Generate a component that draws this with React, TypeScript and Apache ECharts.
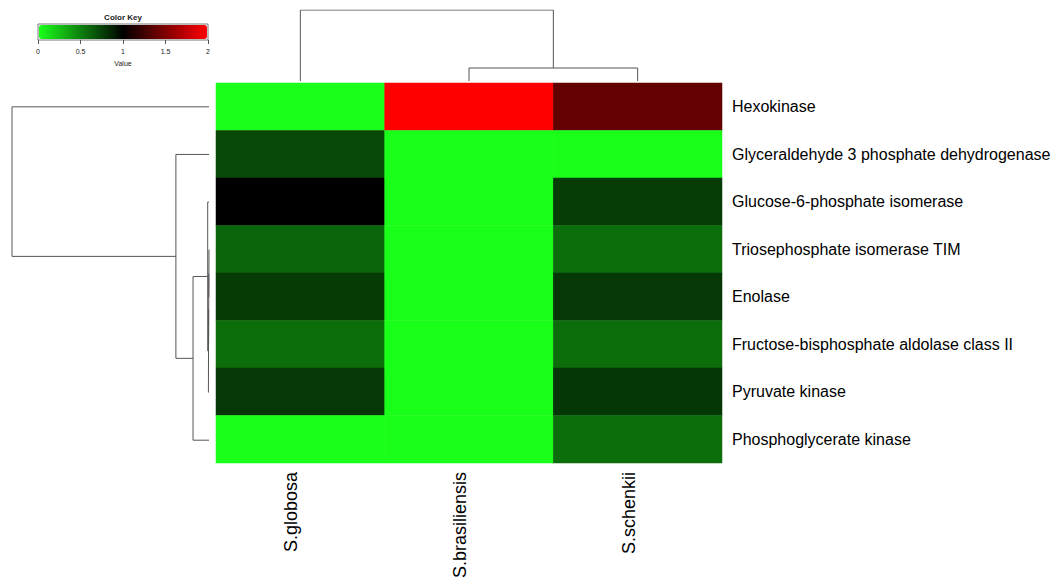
import React, { useEffect, useRef } from "react";
import * as echarts from "echarts";

const rowLabels = [
  "Hexokinase",
  "Glyceraldehyde 3 phosphate dehydrogenase",
  "Glucose-6-phosphate isomerase",
  "Triosephosphate isomerase TIM",
  "Enolase",
  "Fructose-bisphosphate aldolase class II",
  "Pyruvate kinase",
  "Phosphoglycerate kinase",
];
const colLabels = ["S.globosa", "S.brasiliensis", "S.schenkii"];

const globosa = [0, 0.72, 1.0, 0.6, 0.77, 0.57, 0.78, 0];
const brasiliensis = [2, 0, 0, 0, 0, 0, 0, 0];
const schenkii = [1.39, 0, 0.76, 0.57, 0.78, 0.57, 0.79, 0.57];

// hclust-style merges: negative = leaf -(index+1), positive = earlier merge (1-based)
const rowMerge = [[-4, -5], [1, -6], [2, -7], [-3, 3], [4, -8], [-2, 5], [-1, 6]];
const rowHeights = [0.001, 0.002, 0.003, 0.0066, 0.081, 0.168, 1];
const colMerge = [[-2, -3], [-1, 1]];
const colHeights = [0.183, 1];

const keyTicks = [0, 0.5, 1, 1.5, 2];
const keyColors = ["#1aff1a", "#000000", "#ff0000"];

function elbows(merge: number[][], heights: number[]) {
  const pos: number[] = [];
  const hs: number[] = [];
  const segs: number[][][] = [];
  const get = (id: number) =>
    id < 0 ? [-id - 1, 0] : [pos[id - 1], hs[id - 1]];
  merge.forEach((m, k) => {
    const [pa, ha] = get(m[0]);
    const [pb, hb] = get(m[1]);
    const h = heights[k];
    pos.push((pa + pb) / 2);
    hs.push(h);
    segs.push([[pa, ha], [pa, h], [pb, h], [pb, hb]]);
  });
  return segs;
}

export default function App() {
  const ref = useRef<HTMLDivElement>(null);
  useEffect(() => {
    if (!ref.current) return;
    const chart = echarts.init(ref.current, null, { renderer: "svg" });
    const font = "Liberation Sans, Arial, sans-serif";
    const cols = [globosa, brasiliensis, schenkii];
    const heatData: number[][] = [];
    cols.forEach((col, ci) =>
      col.forEach((v, ri) => heatData.push([ci, ri, v]))
    );
    const lineStyle = { color: "#555", width: 1 };
    const rowSegs = elbows(rowMerge, rowHeights).map((s) => ({
      type: "line",
      xAxisIndex: 1,
      yAxisIndex: 1,
      data: s.map(([p, h]) => [h, p]),
      symbol: "none",
      silent: true,
      lineStyle,
    }));
    const colSegs = elbows(colMerge, colHeights).map((s) => ({
      type: "line",
      xAxisIndex: 2,
      yAxisIndex: 2,
      data: s.map(([p, h]) => [p, h]),
      symbol: "none",
      silent: true,
      lineStyle,
    }));

    chart.setOption({
      animation: false,
      textStyle: { fontFamily: font },
      grid: [
        { left: 216, top: 83, width: 506, height: 381 },
        { left: 12, top: 83, width: 197, height: 381 },
        { left: 216, top: 10, width: 506, height: 71 },
        {
          left: 38,
          top: 24,
          width: 170,
          height: 16,
          show: true,
          borderColor: "#777",
          borderWidth: 1,
          backgroundColor: "transparent",
        },
      ],
      xAxis: [
        {
          type: "category",
          gridIndex: 0,
          data: colLabels,
          position: "bottom",
          axisLine: { show: false },
          axisTick: { show: false },
          axisLabel: {
            rotate: 90,
            fontSize: 18,
            color: "#000",
            margin: 9,
            verticalAlign: "bottom",
            fontFamily: font,
          },
        },
        { type: "value", gridIndex: 1, min: 0, max: 1, inverse: true, show: false },
        { type: "value", gridIndex: 2, min: -0.5, max: 2.5, show: false },
        {
          type: "value",
          gridIndex: 3,
          min: keyTicks[0],
          max: keyTicks[keyTicks.length - 1],
          interval: 0.5,
          position: "bottom",
          axisLine: { show: false },
          axisTick: { show: true, length: 4, lineStyle: { color: "#555" } },
          splitLine: { show: false },
          axisLabel: { fontSize: 7, color: "#222", margin: 8, fontFamily: font },
          name: "Value",
          nameLocation: "middle",
          nameGap: 20,
          nameTextStyle: { fontSize: 7, color: "#222", fontFamily: font },
        },
      ],
      yAxis: [
        {
          type: "category",
          gridIndex: 0,
          data: rowLabels,
          inverse: true,
          position: "right",
          axisLine: { show: false },
          axisTick: { show: false },
          axisLabel: { fontSize: 16, color: "#000", margin: 10, fontFamily: font },
        },
        { type: "value", gridIndex: 1, min: -0.5, max: 7.5, inverse: true, show: false },
        { type: "value", gridIndex: 2, min: 0, max: 1, show: false },
        { type: "value", gridIndex: 3, min: 0, max: 1, show: false },
      ],
      visualMap: {
        type: "continuous",
        min: 0,
        max: 2,
        seriesIndex: 0,
        orient: "horizontal",
        left: 39,
        top: 25,
        itemWidth: 14,
        itemHeight: 168,
        padding: 0,
        calculable: false,
        hoverLink: false,
        inRange: { color: keyColors },
      },
      graphic: [
        {
          type: "text",
          x: 123,
          y: 17,
          style: {
            text: "Color Key",
            fontSize: 8,
            fontWeight: "bold",
            fill: "#222",
            fontFamily: font,
            textAlign: "center",
            textVerticalAlign: "middle",
          },
        },
      ],
      series: [
        {
          type: "heatmap",
          xAxisIndex: 0,
          yAxisIndex: 0,
          data: heatData,
          silent: true,
          itemStyle: { borderWidth: 0 },
          emphasis: { disabled: true },
        },
        ...rowSegs,
        ...colSegs,
      ],
    });
    return () => chart.dispose();
  }, []);
  return (
    <div
      ref={ref}
      style={{ position: "absolute", left: 0, top: 0, width: 1056, height: 581, background: "#fff" }}
    />
  );
}
